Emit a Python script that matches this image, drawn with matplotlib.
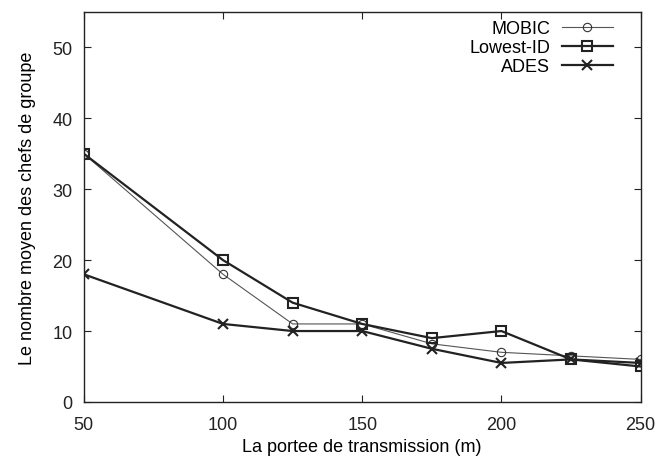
import matplotlib
matplotlib.use('Agg')
import matplotlib.pyplot as plt

plt.rcParams['font.family'] = ['Liberation Sans', 'DejaVu Sans']

# Data
portee = [50, 100, 125, 150, 175, 200, 225, 250]
mobic = [35, 18, 11, 11, 8.2, 7, 6.5, 6]
lowest_id = [35, 20, 14, 11, 9, 10, 6, 5]
ades = [18, 11, 10, 10, 7.5, 5.5, 6, 5.5]

fig = plt.figure(figsize=(6.55, 4.6), dpi=100)
ax = fig.add_axes([0.128, 0.124, 0.850, 0.848])

ax.plot(portee, mobic, color='#555555', lw=0.8, marker='o', ms=6,
        mfc='none', mec='#333333', mew=0.8, label='MOBIC')
ax.plot(portee, lowest_id, color='#222222', lw=1.6, marker='s', ms=7,
        mfc='none', mec='#222222', mew=1.5, label='Lowest-ID')
ax.plot(portee, ades, color='#222222', lw=1.6, marker='x', ms=6.5,
        mec='#222222', mew=1.5, label='ADES')

ax.set_xlim(50, 250)
ax.set_ylim(0, 55)
ax.set_xticks([50, 100, 150, 200, 250])
ax.set_yticks([0, 10, 20, 30, 40, 50])
ax.tick_params(direction='in', top=True, right=True, labelsize=13,
               length=5, colors='#222222')
ax.tick_params(axis='x', pad=10)
ax.tick_params(axis='y', pad=8)
for s in ax.spines.values():
    s.set_linewidth(1.0)
    s.set_color('#222222')

ax.set_xlabel('La portee de transmission (m)', fontsize=13, labelpad=4)
ax.set_ylabel('Le nombre moyen des chefs de groupe', fontsize=13, labelpad=12)

ax.legend(loc='upper right', bbox_to_anchor=(0.950, 0.978), frameon=False,
          markerfirst=False, fontsize=13, handlelength=2.8, handletextpad=0.65,
          labelspacing=0.1, borderaxespad=0.0, borderpad=0.0)

fig.savefig('out.png', dpi=100)
